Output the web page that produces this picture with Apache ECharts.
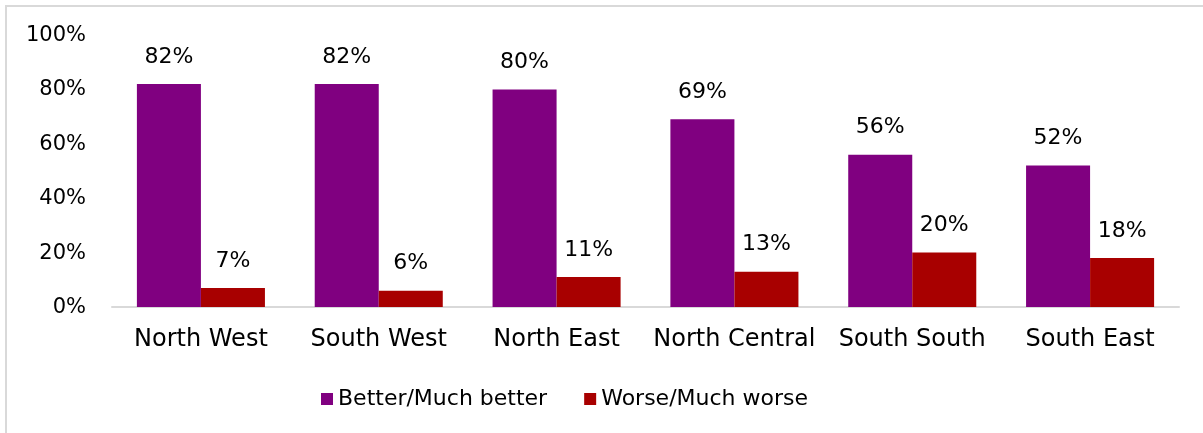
<!DOCTYPE html>
<html>
<head>
<meta charset="utf-8">
<script src="https://cdn.jsdelivr.net/npm/echarts@6/dist/echarts.min.js"></script>
<style>
    html, body {
        margin: 0;
        padding: 0;
        background: #fff;
    }
    .frame {
        position: absolute;
        left: 5px;
        top: 5px;
        width: 1210px;
        height: 440px;
        border-left: 2px solid #d9d9d9;
        border-top: 2px solid #d9d9d9;
    }
    #chart {
        position: absolute;
        left: 0;
        top: 0;
        width: 1203px;
        height: 433px;
    }
</style>
</head>
<body>
<div class="frame"></div>
<div id="chart"></div>
<script>
const categories = ['North West', 'South West', 'North East', 'North Central', 'South South', 'South East'];
const betterValues = [82, 82, 80, 69, 56, 52];
const worseValues = [7, 6, 11, 13, 20, 18];
const yTicks = [0, 20, 40, 60, 80, 100];

const fontFamily = '"DejaVu Sans", sans-serif';

const chartInstance = echarts.init(document.getElementById('chart'));

const labelStyle = {
    show: true,
    position: 'top',
    distance: 16,
    color: '#000',
    fontSize: 22,
    fontFamily: fontFamily,
    formatter: '{c}%'
};

const options = {
    animation: false,
    grid: {
        left: 112,
        right: 24,
        top: 35,
        bottom: 126
    },
    legend: {
        bottom: 18,
        left: 316,
        itemWidth: 12,
        itemHeight: 12,
        itemGap: 37,
        icon: 'rect',
        textStyle: {
            color: '#000',
            fontSize: 22,
            fontFamily: fontFamily
        },
        data: ['Better/Much better', 'Worse/Much worse']
    },
    xAxis: {
        type: 'category',
        data: categories,
        axisLine: { lineStyle: { color: '#d9d9d9', width: 2 } },
        axisTick: { show: false },
        axisLabel: {
            interval: 0,
            color: '#000',
            fontSize: 24,
            fontFamily: fontFamily,
            margin: 21
        }
    },
    yAxis: {
        type: 'value',
        min: yTicks[0],
        max: yTicks[yTicks.length - 1],
        interval: 20,
        splitLine: { show: false },
        axisLine: { show: false },
        axisTick: { show: false },
        axisLabel: {
            color: '#000',
            fontSize: 21,
            fontFamily: fontFamily,
            margin: 26,
            verticalAlign: 'top',
            padding: [-10, 0, 0, 0],
            formatter: '{value}%'
        }
    },
    series: [
        {
            name: 'Better/Much better',
            type: 'bar',
            barGap: '0%',
            barCategoryGap: '28%',
            itemStyle: { color: '#800080' },
            label: labelStyle,
            data: betterValues
        },
        {
            name: 'Worse/Much worse',
            type: 'bar',
            itemStyle: { color: '#a80000' },
            label: labelStyle,
            data: worseValues
        }
    ]
};

chartInstance.setOption(options);
</script>
</body>
</html>
